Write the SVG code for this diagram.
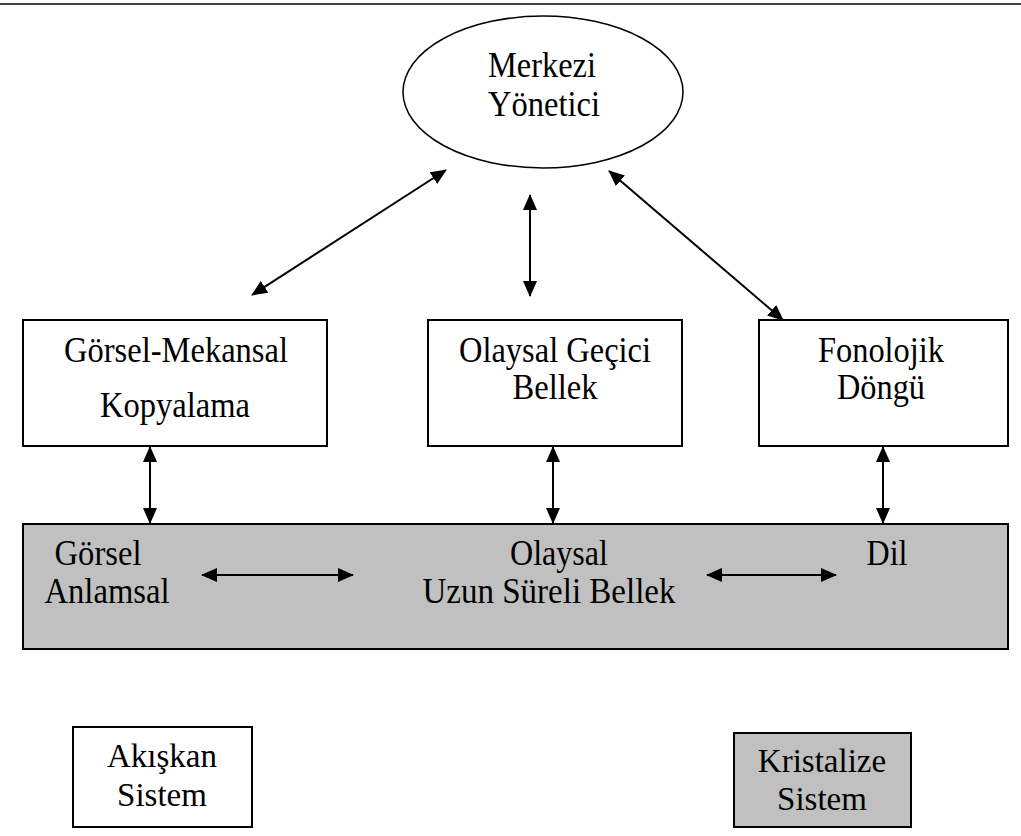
<svg xmlns="http://www.w3.org/2000/svg" width="1021" height="836" viewBox="0 0 1021 836">
<style>
.box{fill:#fff;stroke:#000;stroke-width:2}
.gray{fill:#c0c0c0;stroke:#000;stroke-width:2}
.c{stroke:#000;stroke-width:2;fill:none;marker-start:url(#ah);marker-end:url(#ah)}
</style>
<defs>
<marker id="ah" viewBox="0 0 16 14" refX="15" refY="7" markerWidth="16" markerHeight="14" markerUnits="userSpaceOnUse" orient="auto-start-reverse">
<path d="M0,0 L16,7 L0,14 Z" fill="#000"/>
</marker>
</defs>
<rect width="1021" height="836" fill="#fff"/>
<line x1="0" y1="4" x2="1021" y2="4" stroke="#000" stroke-width="1.5"/>
<g font-family="Liberation Serif, Times New Roman, serif" font-size="36" text-anchor="middle" fill="#000">
<g id="merkezi">
<ellipse cx="543" cy="92" rx="140" ry="76" fill="#fff" stroke="#000" stroke-width="1.5"/>
<text x="542" y="77" textLength="108" lengthAdjust="spacingAndGlyphs">Merkezi</text>
<text x="544" y="116" textLength="112" lengthAdjust="spacingAndGlyphs">Yönetici</text>
</g>
<g id="gorsel-mekansal">
<rect class="box" x="23" y="320" width="304" height="126"/>
<text x="176" y="362" textLength="224" lengthAdjust="spacingAndGlyphs">Görsel-Mekansal</text>
<text x="175" y="417" textLength="150" lengthAdjust="spacingAndGlyphs">Kopyalama</text>
</g>
<g id="olaysal-gecici">
<rect class="box" x="428" y="320" width="254" height="126"/>
<text x="555" y="362" textLength="192" lengthAdjust="spacingAndGlyphs">Olaysal Geçici</text>
<text x="555" y="399" textLength="85" lengthAdjust="spacingAndGlyphs">Bellek</text>
</g>
<g id="fonolojik">
<rect class="box" x="759" y="320" width="249" height="126"/>
<text x="881" y="362" textLength="126" lengthAdjust="spacingAndGlyphs">Fonolojik</text>
<text x="881" y="399" textLength="88" lengthAdjust="spacingAndGlyphs">Döngü</text>
</g>
<g id="uzun-sureli">
<rect class="gray" x="23" y="524" width="985" height="125"/>
<text x="98" y="565" textLength="87" lengthAdjust="spacingAndGlyphs">Görsel</text>
<text x="107" y="603" textLength="125" lengthAdjust="spacingAndGlyphs">Anlamsal</text>
<text x="559" y="565" textLength="98" lengthAdjust="spacingAndGlyphs">Olaysal</text>
<text x="549" y="603" textLength="253" lengthAdjust="spacingAndGlyphs">Uzun Süreli Bellek</text>
<text x="887" y="565" textLength="41" lengthAdjust="spacingAndGlyphs">Dil</text>
</g>
<g id="akiskan" font-size="33">
<rect class="box" x="73" y="727" width="179" height="100"/>
<text x="162" y="767">Akışkan</text>
<text x="162" y="806">Sistem</text>
</g>
<g id="kristalize" font-size="33">
<rect class="gray" x="734" y="733" width="177" height="94"/>
<text x="822" y="772">Kristalize</text>
<text x="822" y="810">Sistem</text>
</g>
</g>
<g id="connectors">
<line class="c" x1="252" y1="295" x2="446" y2="170"/>
<line class="c" x1="530" y1="195" x2="530" y2="296"/>
<line class="c" x1="609" y1="171" x2="783" y2="320"/>
<line class="c" x1="150" y1="447" x2="150" y2="523"/>
<line class="c" x1="553" y1="447" x2="553" y2="523"/>
<line class="c" x1="883" y1="447" x2="883" y2="523"/>
<line class="c" x1="202" y1="575" x2="353" y2="575"/>
<line class="c" x1="707" y1="575" x2="836" y2="575"/>
</g>
</svg>
